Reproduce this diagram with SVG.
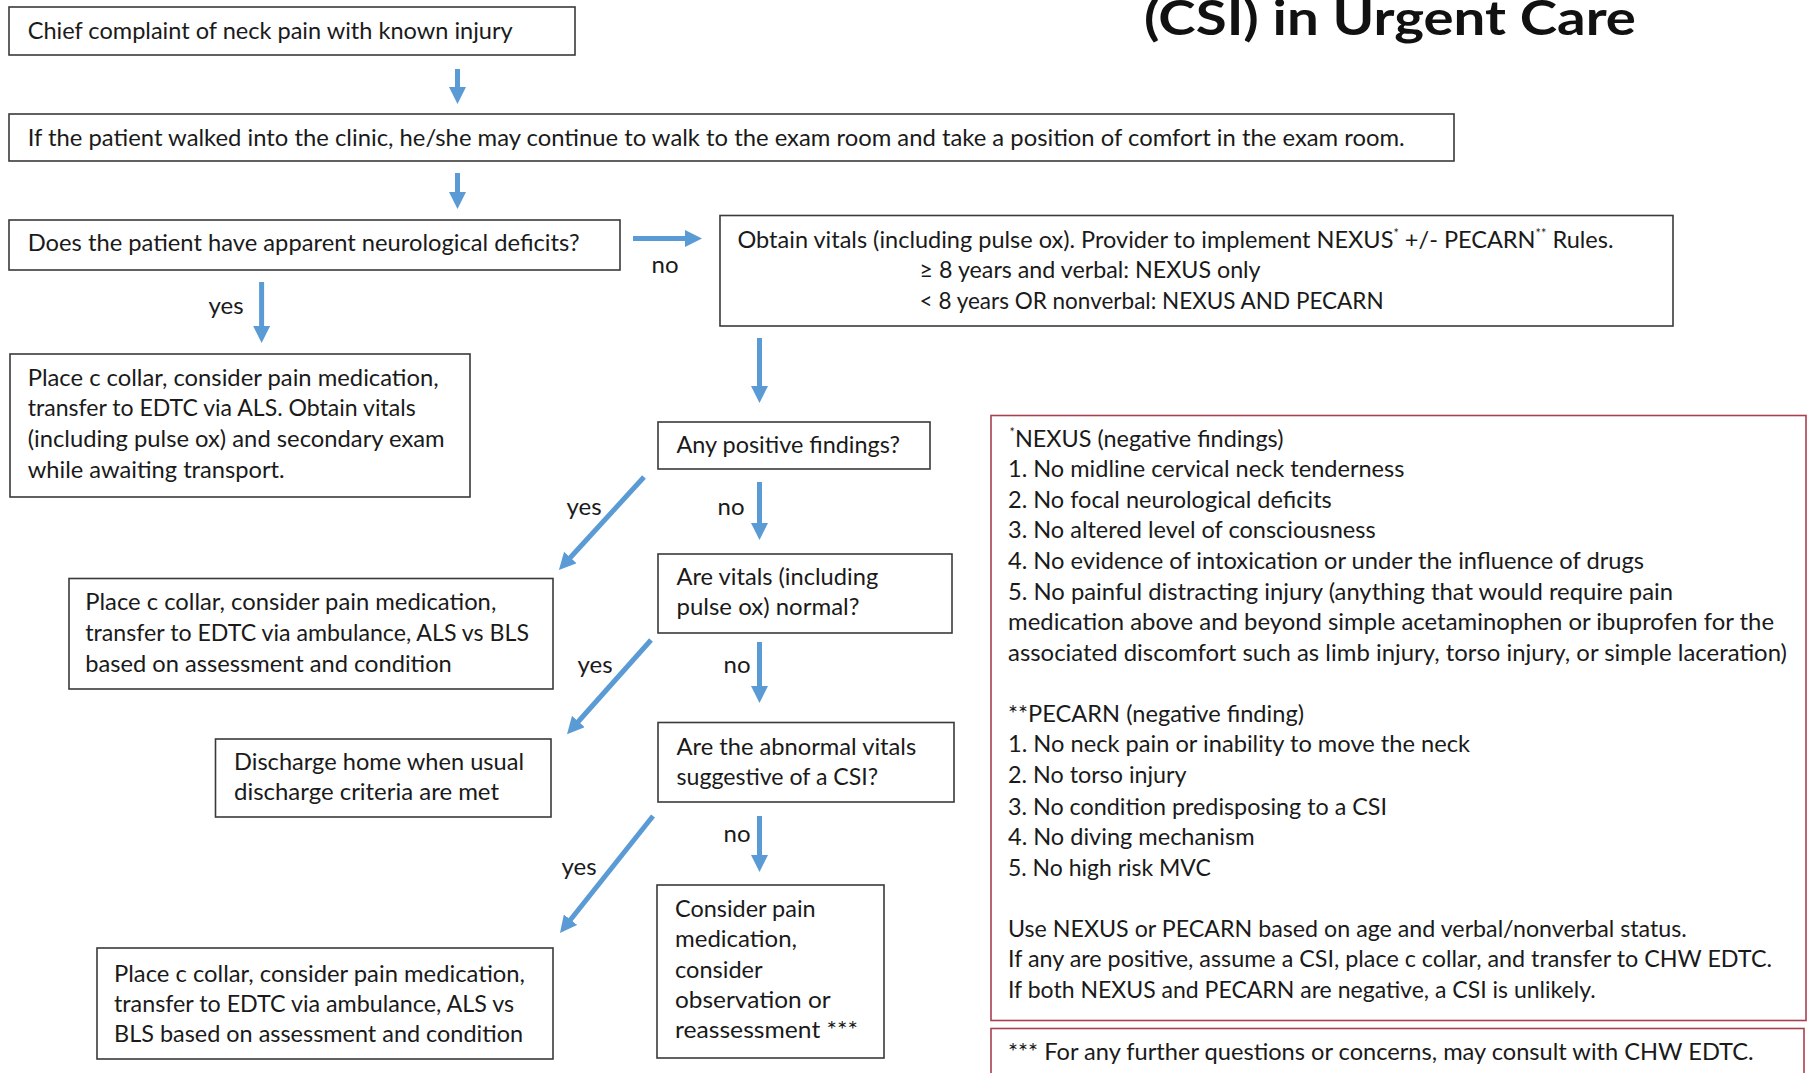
<svg xmlns="http://www.w3.org/2000/svg" width="1807" height="1073" viewBox="0 0 1807 1073">
<style>
  text { font-family: Lato, "Liberation Sans", sans-serif; font-size: 24px; fill: #1a1a1a; }
  .title { font-weight: bold; font-size: 47px; fill: #111; }
  .lbl { text-anchor: middle; }
  .sup { font-size: 13px; }
  .box { fill: #fff; stroke: #3a3a3a; stroke-width: 1.6; }
  .rbox { fill: #fff; stroke: #a8404f; stroke-width: 1.6; }
  .arr { stroke: #5b9bd5; stroke-width: 5; fill: none; marker-end: url(#ah); }
</style>
<defs>
  <marker id="ah" markerUnits="userSpaceOnUse" markerWidth="17" markerHeight="17" refX="2" refY="8.5" orient="auto">
    <path d="M0,0 L17,8.5 L0,17 z" fill="#5b9bd5"/>
  </marker>
</defs>
<rect width="1807" height="1073" fill="#fff"/>

<text class="title" x="1144" y="35" textLength="492" lengthAdjust="spacingAndGlyphs">(CSI) in Urgent Care</text>

<g id="connectors">
  <line class="arr" x1="457.5" y1="69" x2="457.5" y2="89"/>
  <line class="arr" x1="457.5" y1="173" x2="457.5" y2="194"/>
  <line class="arr" x1="633" y1="238.5" x2="687" y2="238.5"/>
  <line class="arr" x1="261.6" y1="282" x2="261.6" y2="328"/>
  <line class="arr" x1="759.5" y1="338" x2="759.5" y2="388"/>
  <line class="arr" x1="759.5" y1="482" x2="759.5" y2="525"/>
  <line class="arr" x1="759.5" y1="642" x2="759.5" y2="688"/>
  <line class="arr" x1="759.5" y1="816" x2="759.5" y2="857"/>
  <line class="arr" x1="644" y1="477" x2="569" y2="559"/>
  <line class="arr" x1="651" y1="640" x2="577" y2="723"/>
  <line class="arr" x1="653" y1="816" x2="569.3" y2="921.3"/>
  <text class="lbl" x="665" y="273">no</text>
  <text class="lbl" x="226" y="314">yes</text>
  <text class="lbl" x="731" y="515">no</text>
  <text class="lbl" x="584" y="515">yes</text>
  <text class="lbl" x="737" y="673">no</text>
  <text class="lbl" x="595" y="673">yes</text>
  <text class="lbl" x="737" y="842">no</text>
  <text class="lbl" x="579" y="875">yes</text>
</g>

<g id="n1">
  <rect class="box" x="9" y="7" width="566" height="48"/>
  <text x="27.7" y="39" textLength="485" lengthAdjust="spacingAndGlyphs">Chief complaint of neck pain with known injury</text>
</g>

<g id="n2">
  <rect class="box" x="9" y="114" width="1445" height="47"/>
  <text x="27.7" y="146" textLength="1377" lengthAdjust="spacingAndGlyphs">If the patient walked into the clinic, he/she may continue to walk to the exam room and take a position of comfort in the exam room.</text>
</g>

<g id="n3">
  <rect class="box" x="9" y="220" width="611" height="50"/>
  <text x="27.7" y="251" textLength="552" lengthAdjust="spacingAndGlyphs">Does the patient have apparent neurological deficits?</text>
</g>

<g id="n4">
  <rect class="box" x="720" y="215.5" width="953" height="110.5"/>
  <text x="737.5" y="248" textLength="876" lengthAdjust="spacingAndGlyphs">Obtain vitals (including pulse ox). Provider to implement NEXUS<tspan class="sup" dy="-10">*</tspan><tspan dy="10"> +/- PECARN</tspan><tspan class="sup" dy="-10">**</tspan><tspan dy="10"> Rules.</tspan></text>
  <text x="919.6" y="278" textLength="341" lengthAdjust="spacingAndGlyphs">≥ 8 years and verbal: NEXUS only</text>
  <text x="919.6" y="309" textLength="464" lengthAdjust="spacingAndGlyphs">&lt; 8 years OR nonverbal: NEXUS AND PECARN</text>
</g>

<g id="n5">
  <rect class="box" x="10" y="354" width="460" height="143"/>
  <text x="27.7" y="386" textLength="411" lengthAdjust="spacingAndGlyphs">Place c collar, consider pain medication,</text>
  <text x="27.7" y="416" textLength="388" lengthAdjust="spacingAndGlyphs">transfer to EDTC via ALS. Obtain vitals</text>
  <text x="27.7" y="447" textLength="417" lengthAdjust="spacingAndGlyphs">(including pulse ox) and secondary exam</text>
  <text x="27.7" y="478" textLength="257" lengthAdjust="spacingAndGlyphs">while awaiting transport.</text>
</g>

<g id="n6">
  <rect class="box" x="658" y="422" width="272" height="47"/>
  <text x="676.5" y="453" textLength="223.6" lengthAdjust="spacingAndGlyphs">Any positive findings?</text>
</g>

<g id="n7">
  <rect class="box" x="658" y="554" width="294" height="79"/>
  <text x="676.5" y="585" textLength="201.7" lengthAdjust="spacingAndGlyphs">Are vitals (including</text>
  <text x="676.5" y="615" textLength="183" lengthAdjust="spacingAndGlyphs">pulse ox) normal?</text>
</g>

<g id="n8">
  <rect class="box" x="69" y="578.5" width="484" height="110.5"/>
  <text x="85.3" y="610" textLength="411" lengthAdjust="spacingAndGlyphs">Place c collar, consider pain medication,</text>
  <text x="85.3" y="641" textLength="443.7" lengthAdjust="spacingAndGlyphs">transfer to EDTC via ambulance, ALS vs BLS</text>
  <text x="85.3" y="672" textLength="366.5" lengthAdjust="spacingAndGlyphs">based on assessment and condition</text>
</g>

<g id="n9">
  <rect class="box" x="215.5" y="739" width="335.5" height="78"/>
  <text x="234" y="770" textLength="290" lengthAdjust="spacingAndGlyphs">Discharge home when usual</text>
  <text x="234" y="800" textLength="265" lengthAdjust="spacingAndGlyphs">discharge criteria are met</text>
</g>

<g id="n10">
  <rect class="box" x="658" y="722.5" width="296" height="79.5"/>
  <text x="676.5" y="755" textLength="239.7" lengthAdjust="spacingAndGlyphs">Are the abnormal vitals</text>
  <text x="676.5" y="785" textLength="201.7" lengthAdjust="spacingAndGlyphs">suggestive of a CSI?</text>
</g>

<g id="n11">
  <rect class="box" x="657" y="885" width="227" height="173"/>
  <text x="675" y="917" textLength="140.6" lengthAdjust="spacingAndGlyphs">Consider pain</text>
  <text x="675" y="947" textLength="122" lengthAdjust="spacingAndGlyphs">medication,</text>
  <text x="675" y="978" textLength="87.6" lengthAdjust="spacingAndGlyphs">consider</text>
  <text x="675" y="1008" textLength="155.6" lengthAdjust="spacingAndGlyphs">observation or</text>
  <text x="675" y="1038" textLength="183" lengthAdjust="spacingAndGlyphs">reassessment ***</text>
</g>

<g id="n12">
  <rect class="box" x="97" y="948" width="456" height="111"/>
  <text x="114" y="982" textLength="411" lengthAdjust="spacingAndGlyphs">Place c collar, consider pain medication,</text>
  <text x="114" y="1012" textLength="400" lengthAdjust="spacingAndGlyphs">transfer to EDTC via ambulance, ALS vs</text>
  <text x="114" y="1042" textLength="409" lengthAdjust="spacingAndGlyphs">BLS based on assessment and condition</text>
</g>

<g id="nexus">
  <rect class="rbox" x="991" y="415.5" width="815" height="605"/>
  <text x="1009.5" y="447" textLength="274" lengthAdjust="spacingAndGlyphs"><tspan class="sup" dy="-10">*</tspan><tspan dy="10">NEXUS (negative findings)</tspan></text>
  <text x="1008" y="477" textLength="396.4" lengthAdjust="spacingAndGlyphs">1. No midline cervical neck tenderness</text>
  <text x="1008" y="508" textLength="323.8" lengthAdjust="spacingAndGlyphs">2. No focal neurological deficits</text>
  <text x="1008" y="538" textLength="367.6" lengthAdjust="spacingAndGlyphs">3. No altered level of consciousness</text>
  <text x="1008" y="569" textLength="636" lengthAdjust="spacingAndGlyphs">4. No evidence of intoxication or under the influence of drugs</text>
  <text x="1008" y="600" textLength="665" lengthAdjust="spacingAndGlyphs">5. No painful distracting injury (anything that would require pain</text>
  <text x="1008" y="630" textLength="766" lengthAdjust="spacingAndGlyphs">medication above and beyond simple acetaminophen or ibuprofen for the</text>
  <text x="1008" y="661" textLength="779" lengthAdjust="spacingAndGlyphs">associated discomfort such as limb injury, torso injury, or simple laceration)</text>
  <text x="1008" y="722" textLength="296" lengthAdjust="spacingAndGlyphs">**PECARN (negative finding)</text>
  <text x="1008" y="752" textLength="462" lengthAdjust="spacingAndGlyphs">1. No neck pain or inability to move the neck</text>
  <text x="1008" y="783" textLength="178.6" lengthAdjust="spacingAndGlyphs">2. No torso injury</text>
  <text x="1008" y="815" textLength="379" lengthAdjust="spacingAndGlyphs">3. No condition predisposing to a CSI</text>
  <text x="1008" y="845" textLength="246.6" lengthAdjust="spacingAndGlyphs">4. No diving mechanism</text>
  <text x="1008" y="876" textLength="202.8" lengthAdjust="spacingAndGlyphs">5. No high risk MVC</text>
  <text x="1008" y="937" textLength="678.8" lengthAdjust="spacingAndGlyphs">Use NEXUS or PECARN based on age and verbal/nonverbal status.</text>
  <text x="1008" y="967" textLength="764" lengthAdjust="spacingAndGlyphs">If any are positive, assume a CSI, place c collar, and transfer to CHW EDTC.</text>
  <text x="1008" y="998" textLength="587.7" lengthAdjust="spacingAndGlyphs">If both NEXUS and PECARN are negative, a CSI is unlikely.</text>
</g>

<g id="footnote">
  <rect class="rbox" x="991" y="1028.5" width="813" height="60"/>
  <text x="1008" y="1060" textLength="745.6" lengthAdjust="spacingAndGlyphs">*** For any further questions or concerns, may consult with CHW EDTC.</text>
</g>
</svg>
